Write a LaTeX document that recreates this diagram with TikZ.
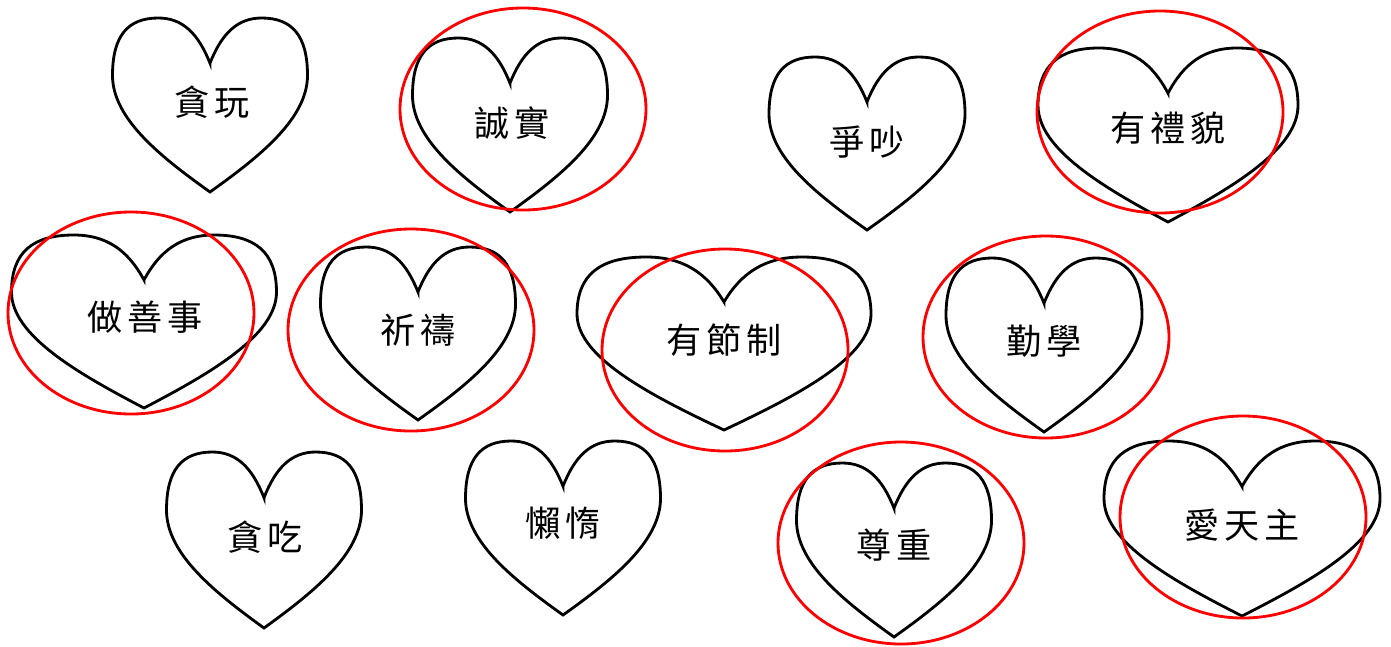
\documentclass[tikz,border=0pt]{standalone}
\usepackage{fontspec}
\newfontfamily\cjk[LetterSpace=15]{Noto Sans CJK TC}

% heart: centre x, top y, half width, height
\newcommand{\heart}[4]{%
 \draw[heartline,shift={(#1,#2)},xscale=#3,yscale=#4] (0,0.26)
  .. controls (-0.12,0.09) and (-0.28,0) .. (-0.53,0)
  .. controls (-0.84,0) and (-1,0.1) .. (-1,0.33)
  .. controls (-1,0.58) and (-0.5,0.8) .. (0,1)
  .. controls (0.5,0.8) and (1,0.58) .. (1,0.33)
  .. controls (1,0.1) and (0.84,0) .. (0.53,0)
  .. controls (0.28,0) and (0.12,0.09) .. cycle;}

\begin{document}
\begin{tikzpicture}[x=0.02cm,y=-0.02cm,
 heartline/.style={black,line width=1.6pt},
 ring/.style={red,line width=1.6pt},
 word/.style={inner sep=0pt,font=\cjk\fontsize{20}{20}\selectfont}]
 \useasboundingbox (0,0) rectangle (1391,646);
 % hearts
 \heart{210}{18}{97.5}{174}
 \heart{510}{38}{97.5}{174}
 \heart{867}{57}{98}{173}
 \heart{1168}{48}{130}{174}
 \heart{144}{235}{132.5}{173}
 \heart{418}{247}{97.5}{173}
 \heart{724}{257}{147}{173}
 \heart{1044}{258}{98}{174}
 \heart{264}{452}{97.5}{176}
 \heart{563}{441}{97.5}{174}
 \heart{894}{463}{97.5}{174}
 \heart{1242}{441}{138}{175}
 % words
 \node[word] (tanwan) at (212,102) {貪玩};
 \node[word] (chengshi) at (512,123) {誠實};
 \node[word] (zhengchao) at (867,142) {爭吵};
 \node[word] (youlimao) at (1168,128) {有禮貌};
 \node[word] (zuoshanshi) at (145,317) {做善事};
 \node[word] (qidao) at (418,330) {祈禱};
 \node[word] (youjiezhi) at (724,340) {有節制};
 \node[word] (qinxue) at (1044,341) {勤學};
 \node[word] (tanchi) at (265,537) {貪吃};
 \node[word] (landuo) at (563,523) {懶惰};
 \node[word] (zunzhong) at (894,545) {尊重};
 \node[word] (aitianzhu) at (1242,525) {愛天主};
 % red rings
 \draw[ring] (523,109) ellipse (123 and 101);
 \draw[ring] (1160,112) ellipse (123 and 101);
 \draw[ring] (131,313) ellipse (123 and 101);
 \draw[ring] (411,330) ellipse (123 and 101);
 \draw[ring] (725,350) ellipse (123 and 101);
 \draw[ring] (1046,337) ellipse (123 and 101);
 \draw[ring] (901,543) ellipse (123 and 101);
 \draw[ring] (1243,517) ellipse (123 and 101);
\end{tikzpicture}
\end{document}
